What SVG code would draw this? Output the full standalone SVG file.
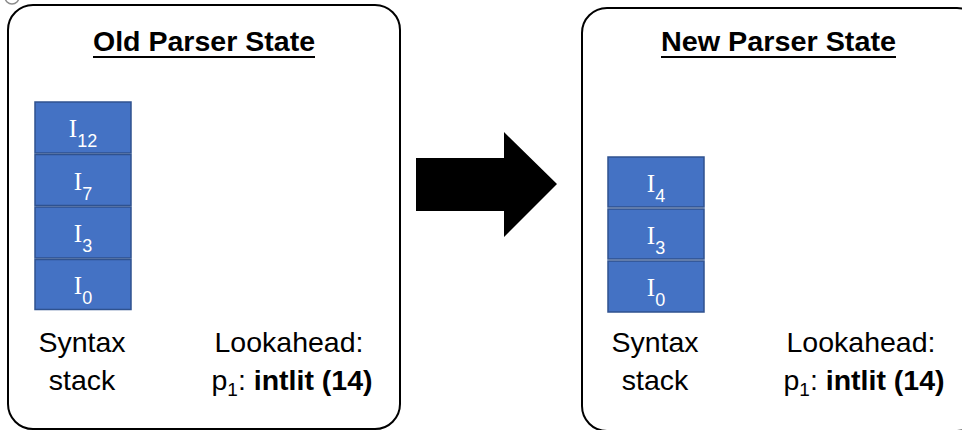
<svg xmlns="http://www.w3.org/2000/svg" width="962" height="430" viewBox="0 0 962 430">
  <style>
    .panel { fill: #ffffff; stroke: #000000; stroke-width: 2; }
    .title { font-family: "Liberation Sans", Arial, sans-serif; font-size: 28px; font-weight: bold; fill: #000000; text-anchor: middle; }
    .uline { stroke: #000000; stroke-width: 2; }
    .cell { fill: #4472C4; stroke: #2F528F; stroke-width: 1.5; }
    .state { fill: #ffffff; text-anchor: middle; }
    .sym { font-family: "Liberation Serif", "Times New Roman", serif; font-size: 25px; }
    .sub { font-family: "Liberation Sans", Arial, sans-serif; font-size: 18px; }
    .label { font-family: "Liberation Sans", Arial, sans-serif; font-size: 28.5px; fill: #000000; text-anchor: middle; }
    .psub { font-size: 19px; }
    .bold { font-weight: bold; }
  </style>

  <!-- partial ring in the top-left corner -->
  <circle cx="12" cy="-3" r="7" fill="none" stroke="#8c8c8c" stroke-width="1.5"/>

  <!-- old parser state panel -->
  <g id="old-state">
    <rect class="panel" x="8" y="5" width="392" height="424" rx="25" ry="25"/>
    <text class="title" x="204" y="51" textLength="222" lengthAdjust="spacingAndGlyphs">Old Parser State</text>
    <line class="uline" x1="93" y1="57" x2="315" y2="57"/>
  </g>

  <g id="old-stack">
    <g id="old-i12">
      <rect class="cell" x="35" y="102" width="96" height="51"/>
      <text class="state" x="83" y="137"><tspan class="sym">I</tspan><tspan class="sub" dy="10">12</tspan></text>
    </g>
    <g id="old-i7">
      <rect class="cell" x="35" y="154.5" width="96" height="51"/>
      <text class="state" x="83" y="189.5"><tspan class="sym">I</tspan><tspan class="sub" dy="10">7</tspan></text>
    </g>
    <g id="old-i3">
      <rect class="cell" x="35" y="207" width="96" height="51"/>
      <text class="state" x="83" y="242"><tspan class="sym">I</tspan><tspan class="sub" dy="10">3</tspan></text>
    </g>
    <g id="old-i0">
      <rect class="cell" x="35" y="259.5" width="96" height="50"/>
      <text class="state" x="83" y="294"><tspan class="sym">I</tspan><tspan class="sub" dy="10">0</tspan></text>
    </g>
  </g>

  <g id="old-labels">
    <text class="label" x="82" y="352">Syntax</text>
    <text class="label" x="82" y="390">stack</text>
    <text class="label" x="289" y="352">Lookahead:</text>
    <text class="label" x="292" y="390">p<tspan class="psub" dy="6">1</tspan><tspan dy="-6">: </tspan><tspan class="bold">intlit (14)</tspan></text>
  </g>

  <!-- transition arrow -->
  <g id="connectors">
    <polygon points="416,158 504,158 504,132 557,184 504,237 504,211 416,211" fill="#000000"/>
  </g>

  <!-- new parser state panel -->
  <g id="new-state">
    <rect class="panel" x="582" y="8" width="400" height="423" rx="25" ry="25"/>
    <text class="title" x="778.5" y="51" textLength="235" lengthAdjust="spacingAndGlyphs">New Parser State</text>
    <line class="uline" x1="661" y1="57" x2="896" y2="57"/>
  </g>

  <g id="new-stack">
    <g id="new-i4">
      <rect class="cell" x="608" y="157" width="96" height="50"/>
      <text class="state" x="656" y="191.5"><tspan class="sym">I</tspan><tspan class="sub" dy="10">4</tspan></text>
    </g>
    <g id="new-i3">
      <rect class="cell" x="608" y="209" width="96" height="50"/>
      <text class="state" x="656" y="243.5"><tspan class="sym">I</tspan><tspan class="sub" dy="10">3</tspan></text>
    </g>
    <g id="new-i0">
      <rect class="cell" x="608" y="261" width="96" height="51"/>
      <text class="state" x="656" y="296"><tspan class="sym">I</tspan><tspan class="sub" dy="10">0</tspan></text>
    </g>
  </g>

  <g id="new-labels">
    <text class="label" x="655" y="352">Syntax</text>
    <text class="label" x="655" y="390">stack</text>
    <text class="label" x="861" y="352">Lookahead:</text>
    <text class="label" x="864" y="390">p<tspan class="psub" dy="6">1</tspan><tspan dy="-6">: </tspan><tspan class="bold">intlit (14)</tspan></text>
  </g>
</svg>
